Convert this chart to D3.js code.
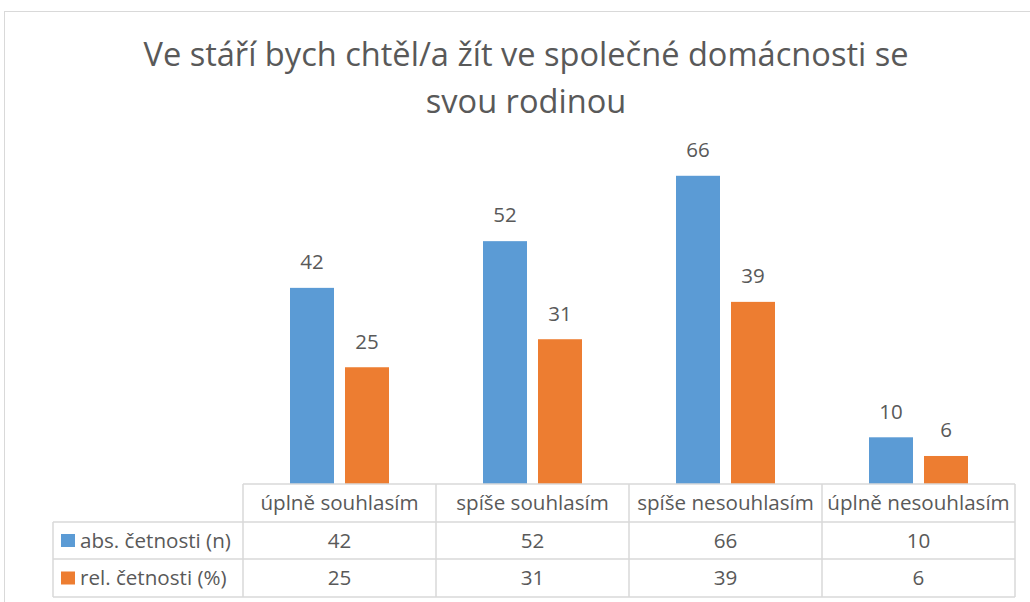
<!DOCTYPE html>
<html><head><meta charset="utf-8">
<script src="https://cdn.jsdelivr.net/npm/d3@7"></script>
<style>body{margin:0;background:#fff}svg{display:block}text{font-family:"Open Sans",sans-serif;fill:#595959}</style>
</head><body>
<script>
const titleLines = ["Ve stáří bych chtěl/a žít ve společné domácnosti se", "svou rodinou"];
const categories = ["úplně souhlasím", "spíše souhlasím", "spíše nesouhlasím", "úplně nesouhlasím"];
const seriesNames = ["abs. četnosti (n)", "rel. četnosti (%)"];
const absValues = [42, 52, 66, 10];
const relValues = [25, 31, 39, 6];
const colors = ["#5B9BD5", "#ED7D31"];

const W = 1030, H = 602;
const svg = d3.select("body").append("svg").attr("width", W).attr("height", H);

// chart border
svg.append("rect").attr("x", 4.5).attr("y", 11.5).attr("width", 1040).attr("height", 620)
  .attr("fill", "none").attr("stroke", "#d9d9d9").attr("stroke-width", 1);

// title
svg.append("text").attr("x", 526).attr("text-anchor", "middle").style("font-size", "32.6px")
  .selectAll("tspan").data(titleLines).join("tspan")
  .attr("x", 526).attr("y", (d, i) => 66 + i * 47).text(d => d);

const plotLeft = 243, plotRight = 1015, baseY = 484;
const x = d3.scaleBand().domain(categories).range([plotLeft, plotRight]);
const inner = d3.scaleBand().domain([0, 1]).range([47, 146]).paddingInner(0.2).paddingOuter(0);
const y = d3.scaleLinear().domain([0, 70]).range([baseY, baseY - 70 * 4.67]);

const series = [absValues, relValues];
series.forEach((vals, si) => {
  const g = svg.append("g");
  g.selectAll("rect").data(vals).join("rect")
    .attr("x", (d, i) => x(categories[i]) + inner(si))
    .attr("y", d => y(d))
    .attr("width", inner.bandwidth())
    .attr("height", d => baseY - y(d))
    .attr("fill", colors[si]);
  g.selectAll("text").data(vals).join("text")
    .attr("x", (d, i) => x(categories[i]) + inner(si) + inner.bandwidth() / 2)
    .attr("y", d => y(d) - 18.7)
    .attr("text-anchor", "middle").style("font-size", "20.5px")
    .text(d => d);
});

// data table
const rowTops = [484, 522, 559, 597];
const tableLeft = 53;
const grid = svg.append("g").attr("stroke", "#d9d9d9").attr("stroke-width", 1.5).attr("fill", "none");
grid.append("line").attr("x1", plotLeft).attr("x2", plotRight).attr("y1", rowTops[0]).attr("y2", rowTops[0]);
[1, 2, 3].forEach(r => grid.append("line").attr("x1", tableLeft).attr("x2", plotRight).attr("y1", rowTops[r]).attr("y2", rowTops[r]));
grid.append("line").attr("x1", tableLeft).attr("x2", tableLeft).attr("y1", rowTops[1]).attr("y2", rowTops[3]);
categories.forEach(c => grid.append("line").attr("x1", x(c)).attr("x2", x(c)).attr("y1", rowTops[0]).attr("y2", rowTops[3]));
grid.append("line").attr("x1", plotRight).attr("x2", plotRight).attr("y1", rowTops[0]).attr("y2", rowTops[3]);

const tfs = "20.6px";
svg.append("g").selectAll("text").data(categories).join("text")
  .attr("x", c => x(c) + x.bandwidth() / 2).attr("y", (rowTops[0] + rowTops[1]) / 2 + 7)
  .attr("text-anchor", "middle").style("font-size", tfs).text(c => c);

series.forEach((vals, si) => {
  const cy = (rowTops[si + 1] + rowTops[si + 2]) / 2;
  svg.append("rect").attr("x", 61).attr("y", cy - 6.5).attr("width", 14).attr("height", 13).attr("fill", colors[si]);
  svg.append("text").attr("x", 80).attr("y", cy + 7).style("font-size", tfs).text(seriesNames[si]);
  svg.append("g").selectAll("text").data(vals).join("text")
    .attr("x", (d, i) => x(categories[i]) + x.bandwidth() / 2).attr("y", cy + 7)
    .attr("text-anchor", "middle").style("font-size", tfs).text(d => d);
});
</script>
</body></html>
